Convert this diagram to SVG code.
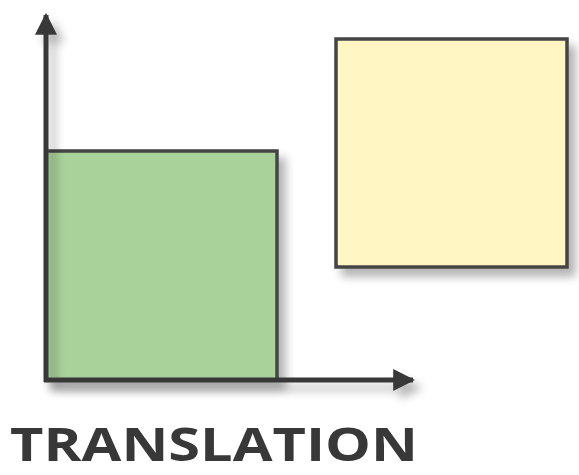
<svg xmlns="http://www.w3.org/2000/svg" width="579" height="475" viewBox="0 0 579 475">
<style>
.box{stroke:#444;stroke-width:3.5}
.axis{stroke:#383838;stroke-width:5;fill:none}
.lbl{font-family:"Open Sans","Liberation Sans",sans-serif;font-weight:bold;font-size:46px;fill:#383838}
</style>
<defs>
<filter id="sh" x="-20%" y="-20%" width="150%" height="150%">
<feGaussianBlur in="SourceAlpha" stdDeviation="5"/>
<feOffset dx="7" dy="8" result="b"/>
<feComponentTransfer><feFuncA type="linear" slope="0.3"/></feComponentTransfer>
<feMerge><feMergeNode/><feMergeNode in="SourceGraphic"/></feMerge>
</filter>
<marker id="ah" viewBox="0 0 10 10" refX="9" refY="5" markerWidth="4.4" markerHeight="4.4" orient="auto" markerUnits="strokeWidth">
<path d="M0,0 L10,5 L0,10 z" fill="#383838"/>
</marker>
</defs>
<g id="green" filter="url(#sh)">
<rect class="box" x="46" y="151" width="231" height="229" fill="#a8d29a"/>
</g>
<g id="yellow" filter="url(#sh)">
<rect class="box" x="336" y="39" width="231" height="228" fill="#fff6c4"/>
</g>
<g id="connectors" filter="url(#sh)">
<path class="axis" d="M46,382 L46,15" marker-end="url(#ah)"/>
<path class="axis" d="M44,380 L413,380" marker-end="url(#ah)"/>
</g>
<g id="label">
<text class="lbl" x="10" y="461" textLength="408" lengthAdjust="spacingAndGlyphs">TRANSLATION</text>
</g>
</svg>
